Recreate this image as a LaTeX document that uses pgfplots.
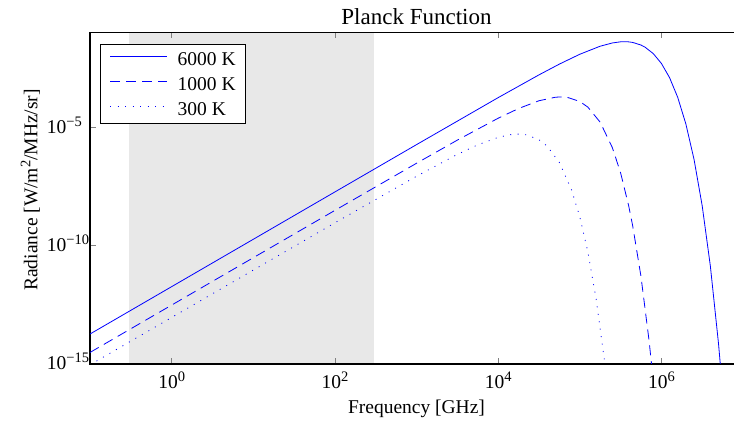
\documentclass[border=0pt]{standalone}
\usepackage{fontspec}
\setmainfont{Liberation Serif}
\usepackage{pgfplots}
\pgfplotsset{compat=1.18}
\definecolor{shade}{RGB}{232,232,232}
\newcommand{\sups}[1]{\raisebox{7pt}{\fontsize{14.5}{15}\selectfont #1}}
\newcommand{\tl}[1]{10\sups{#1}}
\begin{document}
\begin{tikzpicture}
\begin{axis}[
  name=ax,
  set layers,
  scale only axis,
  width=653pt, height=331.5pt,
  xmode=log, ymode=log,
  xmin=1e-1, xmax=1e7,
  ymin=1e-15, ymax=1e-1,
  xtick={1,100,10000,1000000},
  xticklabels={\tl{0},\tl{2},\tl{4},\tl{6}},
  ytick={1e-15,1e-10,1e-5},
  yticklabels={\tl{−15},\tl{−10},\tl{−5}},
  ytick pos=left,
  xtick pos=both,
  minor tick length=0pt,
  major tick length=6pt,
  tick style={line width=0.6pt},
  axis line style={line width=1.1pt},
  tick label style={font=\fontsize{19.5}{20}\selectfont},
  xticklabel style={anchor=base, inner sep=0pt, yshift=-25pt},
  yticklabel style={anchor=base west, inner sep=0pt, xshift=-43.3pt, yshift=-6pt},
  xlabel={Frequency [GHz]},
  xlabel style={at={(axis description cs:0.5,-0.1493)}, anchor=base, font=\fontsize{19.5}{20}\selectfont},
  ylabel={Radiance [W/m\sups{2}/MHz/sr]},
  ylabel style={at={(axis description cs:-0.0804,0.5249)}, anchor=base, font=\fontsize{19.5}{20}\selectfont},
  title={Planck Function},
  every axis title shift=0pt,
  title style={at={(axis description cs:0.5,1.0256)}, anchor=base, font=\fontsize{23}{24}\selectfont},
  legend cell align=left,
  legend style={at={(axis description cs:0.0153,0.9653)}, anchor=north west,
    font=\fontsize{19.5}{20}\selectfont,
    inner xsep=9.5pt, inner ysep=8pt, row sep=12pt, column sep=10pt,
    nodes={inner sep=0pt, text height=13pt, text depth=0pt}},
  legend image code/.code={\color{blue}\draw[#1, draw=blue, line width=1pt] (0pt,2pt) -- (57pt,2pt);},
]
\addplot[fill=shade, draw=none, forget plot, on layer=axis background] coordinates {(0.3,1e-15) (300,1e-15) (300,1e-1) (0.3,1e-1)} -- cycle;

\addplot[color=blue, line width=0.8pt] coordinates {
(0.1,1.844e-14) (1,1.844e-12) (10,1.844e-10) (100,1.844e-8) (1000,1.836e-6)
(10000,1.771e-4) (31623,1.620e-3) (56234,4.617e-3) (100000,1.203e-2)
(177828,2.634e-2) (251189,3.619e-2) (316228,4.038e-2) (354813,4.095e-2)
(398107,4.018e-2) (446684,3.796e-2) (562341,2.952e-2) (630957,2.398e-2)
(794328,1.289e-2) (1000000,4.956e-3) (1258925,1.246e-3) (1584893,1.834e-4)
(1995262,1.374e-5) (2511886,4.396e-7) (3162278,4.827e-9) (3981072,1.379e-11)
(5011872,7.225e-15) (5623413,7.668e-17)
};
\addlegendentry{6000 K}

\addplot[color=blue, line width=0.8pt, dash pattern=on 10pt off 6pt] coordinates {
(0.1,3.072e-15) (1,3.072e-13) (10,3.072e-11) (100,3.065e-9) (1000,2.999e-7)
(3162.3,2.845e-6) (10000,2.393e-5) (17783,6.152e-5) (31623,1.309e-4)
(50119,1.841e-4) (56234,1.892e-4) (63096,1.884e-4) (70795,1.811e-4)
(100000,1.225e-4) (125893,7.014e-5) (177828,1.631e-5) (251189,1.360e-6)
(316228,1.196e-7) (398107,4.702e-9) (446684,6.428e-10) (562341,4.989e-12)
(707946,9.185e-15) (794328,2.055e-16)
};
\addlegendentry{1000 K}

\addplot[color=blue, line width=0.8pt, dash pattern=on 1pt off 6.5pt] coordinates {
(0.1,9.217e-16) (1,9.217e-14) (10,9.217e-12) (100,9.143e-10) (1000,8.501e-8)
(3162.3,7.080e-7) (5623.4,1.798e-6) (10000,3.731e-6) (14125,4.844e-6)
(17783,5.120e-6) (22387,4.739e-6) (31623,2.982e-6) (39811,1.598e-6)
(56234,3.251e-7) (79433,2.240e-8) (100000,1.665e-9) (125893,5.275e-11)
(158489,5.722e-13) (199526,1.610e-15) (208930,4.111e-16)
};
\addlegendentry{300 K}
\end{axis}
\pgfresetboundingbox
\useasboundingbox ([xshift=-90pt,yshift=-58pt]ax.south west) rectangle ([xshift=644pt,yshift=364pt]ax.south west);
\end{tikzpicture}
\end{document}
